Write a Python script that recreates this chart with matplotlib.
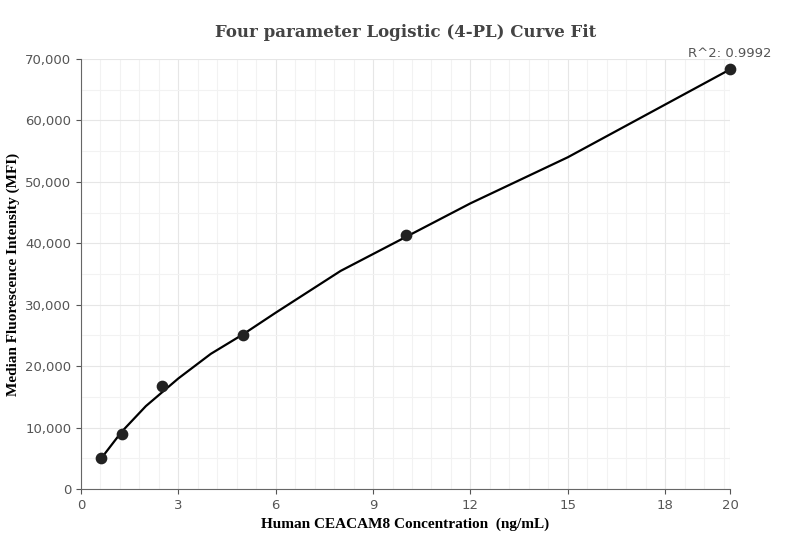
import matplotlib
matplotlib.use("Agg")
import matplotlib.pyplot as plt
from matplotlib.ticker import MultipleLocator, FuncFormatter

conc = [0.625, 1.25, 2.5, 5, 10, 20]
mfi = [5100, 8900, 16700, 25100, 41300, 68300]
fit_x = [0.625, 1.25, 2, 3, 4, 5, 6, 8, 10, 12, 15, 20]
fit_y = [5000, 9300, 13500, 18000, 22000, 25200, 28700, 35500, 41000, 46500, 54000, 68300]
x_ticks = [0, 3, 6, 9, 12, 15, 18, 20]

fig = plt.figure(figsize=(8.11, 5.6), dpi=100)
ax = fig.add_axes([81/811, 71/560, 649/811, 430/560])
ax.plot(fit_x, fit_y, color="black", lw=1.6, zorder=3, clip_on=False)
ax.scatter(conc, mfi, s=55, color="#222222", zorder=4, clip_on=False)
ax.set_xlim(0, 20)
ax.set_ylim(0, 70000)
ax.set_xticks(x_ticks)
ax.xaxis.set_minor_locator(MultipleLocator(0.6))
ax.yaxis.set_major_locator(MultipleLocator(10000))
ax.yaxis.set_minor_locator(MultipleLocator(5000))
ax.yaxis.set_major_formatter(FuncFormatter(lambda v, p: f"{int(v):,}"))
ax.grid(which="major", color="#e6e6e6", lw=0.8)
ax.grid(which="minor", color="#f2f2f2", lw=0.8)
ax.set_axisbelow(True)
for s in ["top", "right"]:
    ax.spines[s].set_visible(False)
for s in ["left", "bottom"]:
    ax.spines[s].set_color("#666666")
ax.tick_params(which="minor", length=0)
ax.tick_params(colors="#555555", labelsize=9.5)
ax.set_title("Four parameter Logistic (4-PL) Curve Fit", fontfamily="DejaVu Serif",
             fontweight="bold", color="#444444", fontsize=12, pad=16)
ax.set_xlabel("Human CEACAM8 Concentration  (ng/mL)", fontfamily="Liberation Serif",
              fontweight="bold", fontsize=11)
ax.set_ylabel("Median Fluorescence Intensity (MFI)", fontfamily="Liberation Serif",
              fontweight="bold", fontsize=11)
ax.text(20, 69800, "R^2: 0.9992", ha="center", va="bottom", color="#555555", fontsize=9.5)
fig.savefig("out.png")
